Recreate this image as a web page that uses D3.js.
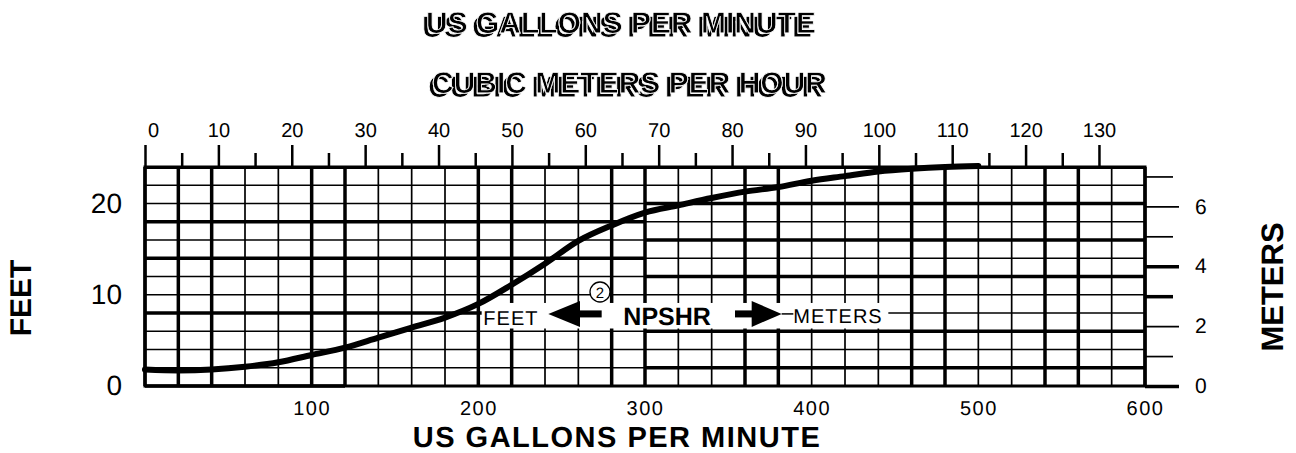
<!DOCTYPE html>
<html>
<head>
<meta charset="utf-8">
<script src="https://d3js.org/d3.v7.min.js"></script>
<style>
    body { margin: 0; background: #fff; }
    text { font-family: "Liberation Sans", Arial, Helvetica, sans-serif; fill: #000; text-rendering: geometricPrecision; }
</style>
</head>
<body>
<svg class="target" width="1296" height="453"></svg>
<script>

    // NPSHR curve (US gpm -> feet)
    let flowGpm   = [0, 20, 40, 60, 80, 100, 120, 140, 160, 180, 200, 220, 240, 260, 280, 300, 320, 340, 360, 380, 400, 420, 440, 460, 480, 500];
    let npshrFeet = [1.8, 1.7, 1.8, 2.1, 2.6, 3.4, 4.2, 5.3, 6.4, 7.5, 9.0, 11.1, 13.4, 15.9, 17.6, 19.0, 19.8, 20.6, 21.3, 21.8, 22.5, 23.0, 23.5, 23.8, 24.0, 24.1];

    // axis ticks
    let gpmTicks   = [100, 200, 300, 400, 500, 600];
    let m3hTicks   = [0, 5, 10, 15, 20, 25, 30, 35, 40, 45, 50, 55, 60, 65, 70, 75, 80, 85, 90, 95, 100, 105, 110, 115, 120, 125, 130];
    let feetTicks  = [0, 10, 20];
    let meterTicks = [0, 1, 2, 3, 4, 5, 6, 7];

    // grid paper: one column per 20 gpm, one row per 2 ft
    let gridGpm  = d3.range(0, 601, 20);
    let gridFeet = d3.range(0, 25, 2);

    // scanned look: some grid lines print heavier
    let heavyCols = [0, 20, 40, 100, 120, 200, 220, 280, 300, 360, 380, 460, 480, 540, 560, 600];
    let heavyRows = [
        {ft: 18, from: 0, to: 300}, {ft: 14, from: 0, to: 300}, {ft: 8, from: 0, to: 300},
        {ft: 20, from: 300, to: 600}, {ft: 16, from: 300, to: 600}, {ft: 12, from: 300, to: 600},
        {ft: 6, from: 300, to: 600}, {ft: 2, from: 300, to: 600}, {ft: 0, from: 0, to: 120}
    ];

    let svg = d3.select(".target");
    svg.append("rect").attr("width", 1296).attr("height", 453).attr("fill", "#fff");

    // offset double image used for the two top titles
    let ghost = svg.append("defs").append("filter")
        .attr("id", "ghost")
        .attr("x", "-5%").attr("y", "-40%").attr("width", "110%").attr("height", "180%");
    ghost.append("feOffset").attr("in", "SourceGraphic").attr("dx", 4).attr("dy", -4).attr("result", "shift");
    let merge = ghost.append("feMerge");
    merge.append("feMergeNode").attr("in", "SourceGraphic");
    merge.append("feMergeNode").attr("in", "shift");

    let x  = d3.scaleLinear().domain([0, 600]).range([145, 1145]);
    let xm = d3.scaleLinear().domain([0, 600 / 4.4029]).range([145, 1145]);
    let y  = d3.scaleLinear().domain([0, 24]).range([386, 167]);
    let ym = d3.scaleLinear().domain([0, 24 * 0.3048]).range([386, 167]);

    // grid
    let grid = svg.append("g").attr("stroke", "#000");
    grid.selectAll("line.v")
        .data(gridGpm)
        .enter().append("line")
        .attr("class", "v")
        .attr("x1", d => x(d)).attr("x2", d => x(d))
        .attr("y1", y(24)).attr("y2", y(0))
        .attr("stroke-width", d => heavyCols.includes(d) ? 3.5 : 1.7);
    grid.selectAll("line.h")
        .data(gridFeet)
        .enter().append("line")
        .attr("class", "h")
        .attr("x1", x(0)).attr("x2", x(600))
        .attr("y1", d => y(d)).attr("y2", d => y(d))
        .attr("stroke-width", 1.7);
    grid.selectAll("line.hh")
        .data(heavyRows)
        .enter().append("line")
        .attr("class", "hh")
        .attr("x1", d => x(d.from)).attr("x2", d => x(d.to))
        .attr("y1", d => y(d.ft)).attr("y2", d => y(d.ft))
        .attr("stroke-width", 3.5);
    grid.append("rect")
        .attr("x", x(0)).attr("y", y(24))
        .attr("width", x(600) - x(0)).attr("height", y(0) - y(24))
        .attr("fill", "none").attr("stroke-width", 3);

    // top axis, cubic meters per hour
    let topAxis = svg.append("g")
        .attr("transform", "translate(0," + y(24) + ")")
        .call(d3.axisTop(xm).tickValues(m3hTicks).tickSizeInner(22).tickSizeOuter(0).tickPadding(8)
            .tickFormat(d => d % 10 === 0 ? d : ""));
    topAxis.attr("font-family", null);
    topAxis.select(".domain").attr("stroke-width", 3);
    topAxis.selectAll(".tick line")
        .attr("stroke-width", 2.5)
        .attr("y2", d => d % 10 === 0 ? -22 : -14);
    topAxis.selectAll(".tick text")
        .attr("font-size", 20)
        .attr("dx", d => d === 0 ? 8 : 0);

    // bottom axis, gpm
    let bottomAxis = svg.append("g")
        .attr("transform", "translate(0," + y(0) + ")")
        .call(d3.axisBottom(x).tickValues(gpmTicks).tickSize(0).tickPadding(15));
    bottomAxis.attr("font-family", null);
    bottomAxis.select(".domain").remove();
    bottomAxis.selectAll(".tick text").attr("font-size", 20).attr("letter-spacing", 1.5);

    // left axis, feet
    let leftAxis = svg.append("g")
        .attr("transform", "translate(" + x(0) + ",0)")
        .call(d3.axisLeft(y).tickValues(feetTicks).tickSize(0).tickPadding(23));
    leftAxis.attr("font-family", null);
    leftAxis.select(".domain").remove();
    leftAxis.selectAll(".tick text").attr("font-size", 28);

    // right axis, meters
    let rightAxis = svg.append("g")
        .attr("transform", "translate(" + x(600) + ",0)")
        .call(d3.axisRight(ym).tickValues(meterTicks).tickSizeInner(34).tickSizeOuter(0).tickPadding(16)
            .tickFormat(d => d % 2 === 0 ? d : ""));
    rightAxis.attr("font-family", null);
    rightAxis.select(".domain").remove();
    rightAxis.selectAll(".tick line")
        .attr("x2", d => d % 2 === 0 ? 34 : 28)
        .attr("stroke-width", d => (d === 0 || d === 3 || d === 4) ? 3.5 : 1.7);
    rightAxis.selectAll(".tick text").attr("font-size", 21);

    // FEET <- (2) NPSHR -> METERS label band
    let ann = svg.append("g");
    ann.append("rect")
        .attr("x", x(202)).attr("y", y(9.1))
        .attr("width", x(446) - x(202)).attr("height", y(6.3) - y(9.1))
        .attr("fill", "#fff");
    ann.append("text").attr("x", x(203)).attr("y", y(6.7))
        .attr("font-size", 20).attr("letter-spacing", 1).text("FEET");
    ann.append("path")
        .attr("d", "M" + x(242) + "," + y(7.9) + "L" + x(261) + "," + (y(7.9) - 13) + "L" + x(261) + "," + (y(7.9) + 13) + "Z");
    ann.append("rect")
        .attr("x", x(260)).attr("y", y(7.9) - 3.5)
        .attr("width", x(274) - x(260)).attr("height", 7);
    ann.append("circle")
        .attr("cx", x(273)).attr("cy", y(10.3)).attr("r", 10)
        .attr("fill", "#fff").attr("stroke", "#000").attr("stroke-width", 1.3);
    ann.append("text").attr("x", x(273)).attr("y", y(10.3) + 5.5)
        .attr("text-anchor", "middle").attr("font-size", 15).text("2");
    ann.append("text").attr("x", x(287)).attr("y", y(6.7))
        .attr("font-size", 25).attr("font-weight", "bold").text("NPSHR");
    ann.append("rect")
        .attr("x", x(354)).attr("y", y(7.9) - 3.5)
        .attr("width", x(365) - x(354)).attr("height", 7);
    ann.append("path")
        .attr("d", "M" + x(382) + "," + y(7.9) + "L" + x(364) + "," + (y(7.9) - 13) + "L" + x(364) + "," + (y(7.9) + 13) + "Z");
    ann.append("line")
        .attr("x1", x(382)).attr("x2", x(389))
        .attr("y1", y(7.9)).attr("y2", y(7.9))
        .attr("stroke", "#000").attr("stroke-width", 1.5);
    ann.append("text").attr("x", x(389)).attr("y", y(6.9))
        .attr("font-size", 20).attr("letter-spacing", 1).text("METERS");

    // the NPSHR curve
    let line = d3.line()
        .x((d, i) => x(flowGpm[i]))
        .y(d => y(d))
        .curve(d3.curveMonotoneX);
    svg.append("path")
        .datum(npshrFeet)
        .attr("d", line)
        .attr("fill", "none")
        .attr("stroke", "#000")
        .attr("stroke-width", 6)
        .attr("stroke-linecap", "round");

    // double-struck titles at the top, as in the scan
    function ghostTitle(txt, tx, ty) {
        svg.append("text")
            .attr("x", tx).attr("y", ty)
            .attr("font-size", 30).attr("font-weight", "bold")
            .attr("stroke", "#fff").attr("stroke-width", 0.8)
            .attr("filter", "url(#ghost)")
            .text(txt);
    }
    ghostTitle("US GALLONS PER MINUTE", 422, 37);
    ghostTitle("CUBIC METERS PER HOUR", 428, 97);

    svg.append("text")
        .attr("x", 617).attr("y", 446.5)
        .attr("text-anchor", "middle")
        .attr("font-size", 29).attr("font-weight", "bold")
        .attr("letter-spacing", 1.5)
        .text("US GALLONS PER MINUTE");

    svg.append("text")
        .attr("transform", "translate(31,298) rotate(-90)")
        .attr("text-anchor", "middle")
        .attr("font-size", 30).attr("font-weight", "bold")
        .text("FEET");

    svg.append("text")
        .attr("transform", "translate(1283,287) rotate(-90)")
        .attr("text-anchor", "middle")
        .attr("font-size", 31).attr("font-weight", "bold")
        .text("METERS");
</script>
</body>
</html>
